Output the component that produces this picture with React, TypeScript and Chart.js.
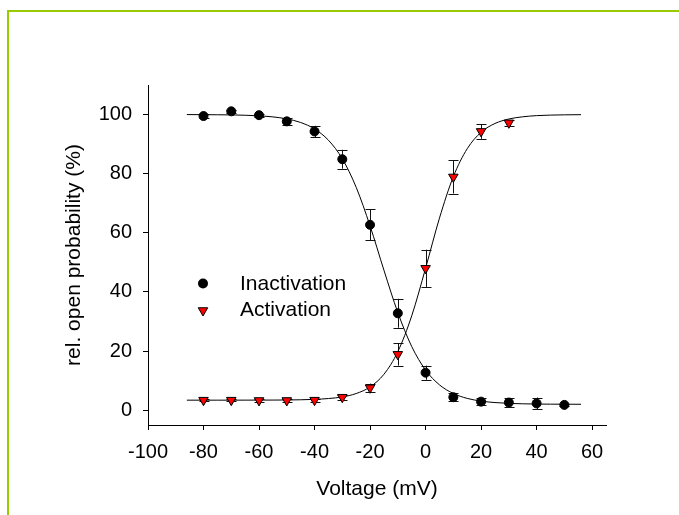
import React, { useEffect, useRef } from 'react';
import { Chart, registerables } from 'chart.js';

Chart.register(...registerables);

// ---- data ----
const inactivationV = [-80, -70, -60, -50, -40, -30, -20, -10, 0, 10, 20, 30, 40, 50];
const inactivation = [99.5, 101.1, 99.8, 97.7, 94.3, 84.9, 62.7, 32.8, 12.7, 4.4, 2.9, 2.6, 2.3, 1.8];
const inactivationErr = [0.6, 0.5, 0.5, 1.2, 1.9, 3.2, 5.2, 4.9, 2.4, 1.4, 1.2, 1.4, 2.0, 0.4];

const activationV = [-80, -70, -60, -50, -40, -30, -20, -10, 0, 10, 20, 30];
const activation = [3.4, 3.4, 3.3, 3.3, 3.4, 4.4, 7.6, 18.9, 48.0, 78.9, 94.3, 97.2];
const activationErr = [0.4, 0.4, 0.4, 0.4, 0.5, 0.8, 1.4, 3.8, 6.3, 5.6, 2.5, 1.0];

// fitted curves
const fitV = [-86, -80, -75, -70, -65, -60, -55, -50, -45, -40, -35, -30, -25, -20, -15, -10, -5, 0, 5, 10, 15, 20, 25, 30, 35, 40, 45, 50, 56];
const inactivationFit = [100.0, 99.96, 99.93, 99.88, 99.77, 99.57, 99.21, 98.54, 97.32, 95.13, 91.33, 85.05, 75.4, 62.35, 47.35, 33.03, 21.56, 13.58, 8.58, 5.66, 4.0, 3.09, 2.59, 2.32, 2.17, 2.09, 2.05, 2.03, 2.01];
const activationFit = [3.4, 3.4, 3.4, 3.4, 3.41, 3.42, 3.43, 3.46, 3.53, 3.67, 3.95, 4.5, 5.64, 7.87, 12.16, 19.8, 31.9, 48.0, 64.97, 79.0, 88.45, 94.02, 96.98, 98.5, 99.24, 99.64, 99.82, 99.91, 99.96];

const xTicks = [-100, -80, -60, -40, -20, 0, 20, 40, 60];
const yTicks = [0, 20, 40, 60, 80, 100];
const legendLabels = ['Inactivation', 'Activation'];

const FONT = '"Liberation Sans", Arial, Helvetica, sans-serif';

const errorBars = {
  id: 'errorBars',
  beforeDatasetsDraw(chart: any) {
    const ctx = chart.ctx;
    const xs = chart.scales.x;
    const ys = chart.scales.y;
    const sets = [
      { v: inactivationV, y: inactivation, e: inactivationErr },
      { v: activationV, y: activation, e: activationErr },
    ];
    ctx.save();
    ctx.strokeStyle = '#111';
    ctx.lineWidth = 1;
    for (const s of sets) {
      s.v.forEach((v, i) => {
        const px = Math.round(xs.getPixelForValue(v)) + 0.5;
        const top = ys.getPixelForValue(s.y[i] + s.e[i]);
        const bot = ys.getPixelForValue(s.y[i] - s.e[i]);
        ctx.beginPath();
        ctx.moveTo(px, top);
        ctx.lineTo(px, bot);
        ctx.moveTo(px - 5, Math.round(top) + 0.5);
        ctx.lineTo(px + 5, Math.round(top) + 0.5);
        ctx.moveTo(px - 5, Math.round(bot) + 0.5);
        ctx.lineTo(px + 5, Math.round(bot) + 0.5);
        ctx.stroke();
      });
    }
    ctx.restore();
  },
};

const legendPlugin = {
  id: 'customLegend',
  afterDraw(chart: any) {
    const ctx = chart.ctx;
    const mx = 203;
    const y1 = 283.5;
    const y2 = 310.5;
    ctx.save();
    // circle
    ctx.fillStyle = '#000';
    ctx.beginPath();
    ctx.arc(mx, y1, 5, 0, Math.PI * 2);
    ctx.fill();
    // down triangle
    const r = 5.5;
    ctx.beginPath();
    let rad = Math.PI;
    ctx.moveTo(mx + Math.sin(rad) * r, y2 - Math.cos(rad) * r);
    rad += (2 * Math.PI) / 3;
    ctx.lineTo(mx + Math.sin(rad) * r, y2 - Math.cos(rad) * r);
    rad += (2 * Math.PI) / 3;
    ctx.lineTo(mx + Math.sin(rad) * r, y2 - Math.cos(rad) * r);
    ctx.closePath();
    ctx.fillStyle = '#ff0000';
    ctx.fill();
    ctx.strokeStyle = '#000';
    ctx.lineWidth = 1;
    ctx.stroke();
    // text
    ctx.fillStyle = '#000';
    ctx.font = `21px ${FONT}`;
    ctx.textBaseline = 'middle';
    ctx.textAlign = 'left';
    ctx.fillText(legendLabels[0], 240, y1 + 0.5);
    ctx.fillText(legendLabels[1], 240, y2);
    ctx.restore();
  },
};

export default function App() {
  const ref = useRef<HTMLCanvasElement | null>(null);

  useEffect(() => {
    document.body.style.overflow = 'hidden';
    const canvas = ref.current;
    if (!canvas) return;
    const axisGrid = {
      display: true,
      drawOnChartArea: false,
      drawTicks: true,
      tickLength: 5,
      color: '#000',
      lineWidth: 1,
    };
    const chart = new Chart(canvas, {
      type: 'scatter',
      data: {
        datasets: [
          {
            label: legendLabels[0],
            data: inactivationV.map((v, i) => ({ x: v, y: inactivation[i] })),
            pointStyle: 'circle',
            pointRadius: 4.5,
            pointBackgroundColor: '#000',
            pointBorderColor: '#000',
            pointBorderWidth: 1,
            showLine: false,
            order: 1,
          },
          {
            label: legendLabels[1],
            data: activationV.map((v, i) => ({ x: v, y: activation[i] })),
            pointStyle: 'triangle',
            rotation: 180,
            pointRadius: 5.5,
            pointBackgroundColor: '#ff0000',
            pointBorderColor: '#000',
            pointBorderWidth: 1,
            showLine: false,
            order: 0,
          },
          {
            label: 'inactivation fit',
            data: fitV.map((v, i) => ({ x: v, y: inactivationFit[i] })),
            showLine: true,
            pointRadius: 0,
            borderColor: '#000',
            borderWidth: 1,
            cubicInterpolationMode: 'monotone',
            order: 3,
          },
          {
            label: 'activation fit',
            data: fitV.map((v, i) => ({ x: v, y: activationFit[i] })),
            showLine: true,
            pointRadius: 0,
            borderColor: '#000',
            borderWidth: 1,
            cubicInterpolationMode: 'monotone',
            order: 3,
          },
        ],
      },
      options: {
        responsive: false,
        animation: false,
        devicePixelRatio: 1,
        layout: { padding: { left: 0, right: 73, top: 85, bottom: 0 } },
        plugins: { legend: { display: false }, tooltip: { enabled: false } },
        scales: {
          x: {
            type: 'linear',
            position: 'bottom',
            min: -100,
            max: 65,
            afterBuildTicks: (scale: any) => {
              scale.ticks = xTicks.map((v) => ({ value: v }));
            },
            afterFit: (scale: any) => {
              scale.height = 90;
            },
            grid: axisGrid,
            border: { display: true, color: '#000', width: 1 },
            ticks: {
              color: '#000',
              font: { family: FONT, size: 20 },
              padding: 10,
              maxRotation: 0,
              autoSkip: false,
            },
            title: {
              display: true,
              text: 'Voltage (mV)',
              color: '#000',
              font: { family: FONT, size: 21 },
              padding: { top: 0, bottom: 13 },
            },
          },
          y: {
            type: 'linear',
            min: -5,
            max: 110,
            afterBuildTicks: (scale: any) => {
              scale.ticks = yTicks.map((v) => ({ value: v }));
            },
            afterFit: (scale: any) => {
              scale.width = 148;
            },
            grid: axisGrid,
            border: { display: true, color: '#000', width: 1 },
            ticks: {
              color: '#000',
              font: { family: FONT, size: 20 },
              padding: 11,
              autoSkip: false,
            },
            title: {
              display: true,
              text: 'rel. open probability (%)',
              color: '#000',
              font: { family: FONT, size: 21 },
              padding: { top: 62, bottom: 0 },
            },
          },
        },
      },
      plugins: [errorBars, legendPlugin],
    } as any);
    return () => chart.destroy();
  }, []);

  return (
    <div style={{ position: 'relative', width: 663, height: 499 }}>
      <div
        style={{
          position: 'fixed',
          left: 7,
          top: 10,
          width: 672,
          height: 505,
          boxSizing: 'border-box',
          borderLeft: '2px solid #99cc00',
          borderTop: '2px solid #99cc00',
        }}
      />
      <canvas
        ref={ref}
        width={679}
        height={515}
        style={{ position: 'fixed', left: 0, top: 0, width: 679, height: 515 }}
      />
    </div>
  );
}
